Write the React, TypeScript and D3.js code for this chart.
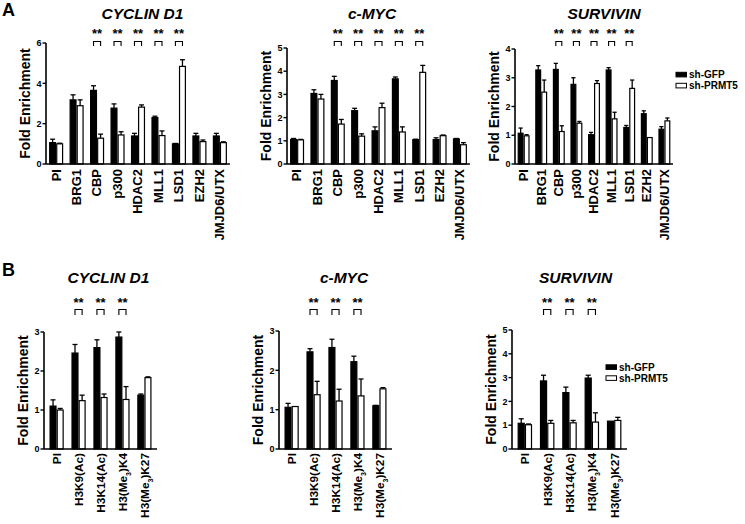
import React from "react";
import * as d3 from "d3";

// ---------- data ----------
const groupsA = ["PI", "BRG1", "CBP", "p300", "HDAC2", "MLL1", "LSD1", "EZH2", "JMJD6/UTX"];
const groupsB = ["PI", "H3K9(Ac)", "H3K14(Ac)", "H3(Me3)K4", "H3(Me3)K27"];
const seriesNames = ["sh-GFP", "sh-PRMT5"];

const cyclinA_gfp = [1.06, 3.18, 3.65, 2.77, 1.39, 2.3, 1.0, 1.39, 1.39];
const cyclinA_gfpErr = [0.17, 0.25, 0.23, 0.21, 0.13, 0.07, 0.02, 0.13, 0.13];
const cyclinA_prmt = [1.0, 2.89, 1.28, 1.44, 2.82, 1.41, 4.84, 1.11, 1.06];
const cyclinA_prmtErr = [0.03, 0.29, 0.2, 0.16, 0.11, 0.23, 0.33, 0.08, 0.04];

const mycA_gfp = [1.06, 3.04, 3.6, 2.3, 1.43, 3.67, 1.05, 1.05, 1.08];
const mycA_gfpErr = [0.04, 0.16, 0.18, 0.1, 0.17, 0.08, 0.02, 0.08, 0.02];
const mycA_prmt = [1.04, 2.8, 1.72, 1.2, 2.43, 1.38, 3.95, 1.22, 0.83];
const mycA_prmtErr = [0.02, 0.2, 0.2, 0.1, 0.19, 0.22, 0.3, 0.03, 0.09];

const survA_gfp = [1.07, 3.27, 3.29, 2.77, 1.02, 3.27, 1.27, 1.75, 1.21];
const survA_gfpErr = [0.18, 0.15, 0.21, 0.23, 0.08, 0.08, 0.07, 0.1, 0.09];
const survA_prmt = [0.98, 2.5, 1.13, 1.42, 2.8, 1.57, 2.63, 0.92, 1.5];
const survA_prmtErr = [0.04, 0.42, 0.2, 0.06, 0.1, 0.23, 0.29, 0.0, 0.1];

const cyclinB_gfp = [1.1, 2.46, 2.6, 2.87, 1.38];
const cyclinB_gfpErr = [0.16, 0.22, 0.2, 0.13, 0.03];
const cyclinB_prmt = [1.0, 1.24, 1.32, 1.27, 1.83];
const cyclinB_prmtErr = [0.04, 0.14, 0.09, 0.33, 0.02];

const mycB_gfp = [1.06, 2.47, 2.58, 2.22, 1.1];
const mycB_gfpErr = [0.1, 0.08, 0.21, 0.14, 0.01];
const mycB_prmt = [1.08, 1.38, 1.22, 1.35, 1.53];
const mycB_prmtErr = [0.0, 0.34, 0.3, 0.43, 0.03];

const survB_gfp = [1.08, 2.86, 2.37, 2.98, 1.17];
const survB_gfpErr = [0.19, 0.24, 0.23, 0.12, 0.0];
const survB_prmt = [1.02, 1.08, 1.1, 1.13, 1.2];
const survB_prmtErr = [0.03, 0.12, 0.1, 0.39, 0.13];

const sigA = [2, 3, 4, 5, 6];
const sigB = [1, 2, 3];
const sigLabel = "**";
const yLabel = "Fold Enrichment";

const FONT = "'Liberation Sans', Arial, Helvetica, sans-serif";

function CatLabel({ text }: { text: string }) {
  const i = text.indexOf("Me3");
  if (i < 0) return <>{text}</>;
  return (
    <>
      {text.slice(0, i + 2)}
      <tspan baselineShift="sub" fontSize="7">3</tspan>
      <tspan>{text.slice(i + 3)}</tspan>
    </>
  );
}

function Panel(p: any) {
  const xb = d3.scaleBand<string>().domain(p.cats).range([p.x0, p.x1]).paddingInner(p.pIn).paddingOuter(p.pOut);
  const xs = d3.scaleBand<string>().domain(seriesNames).range([0, xb.bandwidth()]);
  const y = d3.scaleLinear().domain([0, p.ymax]).range([p.y0, p.yTop]);
  const ticks = d3.range(0, p.ymax + 0.001, p.tickStep);
  const bw = xs.bandwidth();
  const cw = bw * 0.7;
  const series = [
    { name: seriesNames[0], v: p.gfp, e: p.gfpErr, fill: "#000" },
    { name: seriesNames[1], v: p.prmt, e: p.prmtErr, fill: "#fff" },
  ];
  return (
    <g fontFamily={FONT} fontWeight="bold">
      <text x={p.titleX} y={p.titleY} textAnchor="middle" fontSize="15.5" fontStyle="italic">{p.title}</text>
      {series.map((s) =>
        p.cats.map((c: string, i: number) => {
          const bx = (xb(c) as number) + (xs(s.name) as number);
          const top = y(s.v[i]);
          const et = y(s.v[i] + s.e[i]);
          const cx = bx + bw / 2;
          return (
            <g key={s.name + c}>
              {s.e[i] > 0.005 && (
                <g stroke="#000" strokeWidth="1.3">
                  <line x1={cx} x2={cx} y1={top} y2={et} />
                  <line x1={cx - cw / 2} x2={cx + cw / 2} y1={et} y2={et} />
                </g>
              )}
              <rect x={bx + 0.6} y={top} width={bw - 1.2} height={p.y0 - top} fill={s.fill} stroke="#000" strokeWidth="1.2" />
            </g>
          );
        })
      )}
      <line x1={p.x0} x2={p.x1} y1={p.y0} y2={p.y0} stroke="#000" strokeWidth="1.6" />
      <line x1={p.x0} x2={p.x0} y1={p.y0} y2={p.yTop} stroke="#000" strokeWidth="1.6" />
      {ticks.map((t: number) => (
        <g key={t}>
          <line x1={p.x0 - 3.5} x2={p.x0} y1={y(t)} y2={y(t)} stroke="#000" strokeWidth="1.4" />
          <text x={p.x0 - 4.5} y={y(t) + 3.2} textAnchor="end" fontSize="9">{t}</text>
        </g>
      ))}
      <text transform={`translate(${p.x0 - 16},${(p.y0 + p.yTop) / 2}) rotate(-90)`} textAnchor="middle" fontSize="14">{yLabel}</text>
      {p.cats.map((c: string) => {
        const cx = (xb(c) as number) + xb.bandwidth() / 2;
        return (
          <text key={c} transform={`translate(${cx + 4.4},${p.y0 + p.labGap}) rotate(-90)`} textAnchor="end" fontSize={p.labFont}>
            <CatLabel text={c} />
          </text>
        );
      })}
      {p.sig.map((i: number) => {
        const c = p.cats[i];
        const g0 = (xb(c) as number) + bw / 2;
        const g1 = g0 + bw;
        return (
          <g key={"s" + i}>
            <text x={(g0 + g1) / 2} y={p.starY} textAnchor="middle" fontSize="13">{sigLabel}</text>
            <path d={`M${g0},${p.brBot}V${p.brTop}H${g1}V${p.brBot}`} fill="none" stroke="#000" strokeWidth="1.1" />
          </g>
        );
      })}
      {p.legend && (
        <g fontSize="10">
          <rect x={p.legend.x} y={p.legend.y - 2.2} width={10.5} height={4.6} fill="#000" stroke="#000" strokeWidth="1" />
          <text x={p.legend.x + 13} y={p.legend.y + 3.5}>{seriesNames[0]}</text>
          <rect x={p.legend.x} y={p.legend.y + p.legend.dy - 2.2} width={10.5} height={4.6} fill="#fff" stroke="#000" strokeWidth="1" />
          <text x={p.legend.x + 13} y={p.legend.y + p.legend.dy + 3.5}>{seriesNames[1]}</text>
        </g>
      )}
    </g>
  );
}

export default function App() {
  const aCommon = { cats: groupsA, sig: sigA, y0: 164, starY: 38, brTop: 41.5, brBot: 46, titleY: 19, pIn: 0.31, pOut: 0.15, labFont: 13, labGap: 5 };
  const bCommon = { cats: groupsB, sig: sigB, y0: 449, starY: 307, brTop: 309.5, brBot: 315, titleY: 283, pIn: 0.35, pOut: 0.25, labFont: 11.8, labGap: 4 };
  return (
    <svg width={745} height={524} style={{ position: "absolute", left: 0, top: 0, background: "#fff" }}>
      <rect width={745} height={524} fill="#fff" />
      <text x={2} y={16} fontFamily={FONT} fontWeight="bold" fontSize="18">A</text>
      <text x={2} y={276} fontFamily={FONT} fontWeight="bold" fontSize="18">B</text>
      <Panel {...aCommon} x0={46} x1={230} yTop={43} ymax={6} tickStep={2} title="CYCLIN D1" titleX={142.5}
        gfp={cyclinA_gfp} gfpErr={cyclinA_gfpErr} prmt={cyclinA_prmt} prmtErr={cyclinA_prmtErr} />
      <Panel {...aCommon} x0={287} x1={470} yTop={48} ymax={5} tickStep={1} title="c-MYC" titleX={372}
        gfp={mycA_gfp} gfpErr={mycA_gfpErr} prmt={mycA_prmt} prmtErr={mycA_prmtErr} />
      <Panel {...aCommon} x0={515} x1={673} yTop={49} ymax={4} tickStep={1} title="SURVIVIN" titleX={604} pIn={0.32}
        gfp={survA_gfp} gfpErr={survA_gfpErr} prmt={survA_prmt} prmtErr={survA_prmtErr}
        legend={{ x: 676, y: 74.5, dy: 11 }} />
      <Panel {...bCommon} x0={44} x1={157} yTop={332} ymax={3} tickStep={1} title="CYCLIN D1" titleX={108.5}
        gfp={cyclinB_gfp} gfpErr={cyclinB_gfpErr} prmt={cyclinB_prmt} prmtErr={cyclinB_prmtErr} />
      <Panel {...bCommon} x0={279} x1={392} yTop={331} ymax={3} tickStep={1} title="c-MYC" titleX={344}
        gfp={mycB_gfp} gfpErr={mycB_gfpErr} prmt={mycB_prmt} prmtErr={mycB_prmtErr} />
      <Panel {...bCommon} x0={512} x1={627} yTop={330} ymax={5} tickStep={1} title="SURVIVIN" titleX={575.5}
        gfp={survB_gfp} gfpErr={survB_gfpErr} prmt={survB_prmt} prmtErr={survB_prmtErr}
        legend={{ x: 606, y: 367, dy: 11 }} />
    </svg>
  );
}
